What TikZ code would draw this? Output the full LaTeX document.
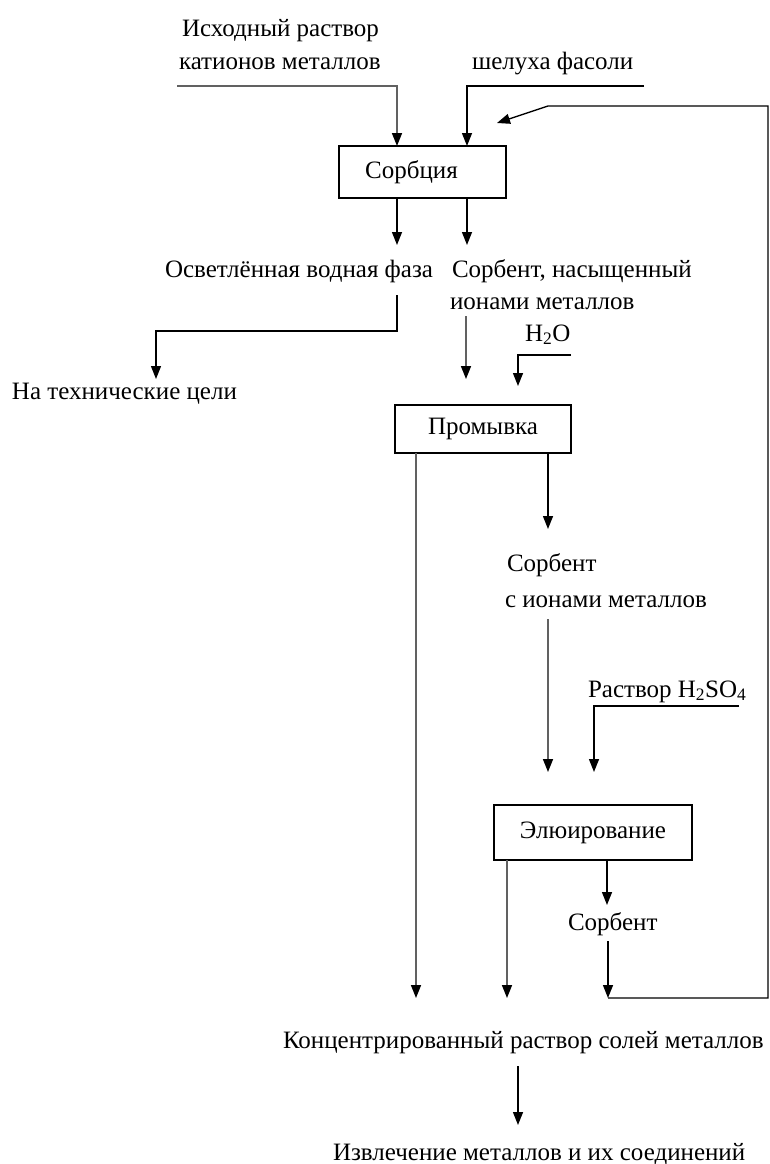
\documentclass[tikz,border=0pt]{standalone}
\usepackage{fontspec}
\setmainfont{Liberation Serif}
\usetikzlibrary{arrows.meta}
\begin{document}
\begin{tikzpicture}[x=1pt,y=-1pt,
  every node/.style={inner sep=0pt, outer sep=0pt, font=\fontsize{25}{32}\selectfont},
  lbl/.style={anchor=base west},
  procbox/.style={draw, line width=1.4pt, inner sep=0pt},
  conn/.style={line width=1.4pt},
  arr/.style={conn, -{Triangle[width=10pt,length=13pt]}},
  garr/.style={line width=1.6pt, draw=black!62, -{Triangle[width=10pt,length=13pt,color=black]}}]
\useasboundingbox (0,0) rectangle (770,1164);

% text labels
\node[lbl] (src1) at (182,37) {Исходный раствор};
\node[lbl] (src2) at (179,70) {катионов металлов};
\node[lbl] (husk) at (472,70) {шелуха фасоли};
\node[lbl] (osv) at (165,277) {Осветлённая водная фаза};
\node[lbl] (sat1) at (452,277) {Сорбент, насыщенный};
\node[lbl] (sat2) at (450,309) {ионами металлов};
\node[lbl] (tech) at (12,399) {На технические цели};
\node[lbl] (water) at (525,341) {H\textsubscript{2}O};
\node[lbl] (sb2a) at (507,571) {Сорбент};
\node[lbl] (sb2b) at (505,607) {с ионами металлов};
\node[lbl] (acid) at (588,697) {Раствор H\textsubscript{2}SO\textsubscript{4}};
\node[lbl] (sb3) at (568,930) {Сорбент};
\node[lbl] (conc) at (283,1048) {Концентрированный раствор солей металлов};
\node[lbl] (extr) at (333,1160) {Извлечение металлов и их соединений};

% process boxes
\node[procbox, minimum width=167pt, minimum height=52pt] (sorb) at (422.5,172) {\hspace*{-22pt}Сорбция};
\node[procbox, minimum width=176pt, minimum height=48pt] (prom) at (483,429) {Промывка};
\node[procbox, minimum width=198pt, minimum height=55pt] (elu) at (593,832.5) {Элюирование};

% coordinates
\coordinate (f1) at (177,86);
\coordinate (f2) at (644,86);
\coordinate (t1) at (397,245);
\coordinate (t2) at (467,245);
\coordinate (o1) at (397,295);
\coordinate (o2) at (156,331);
\coordinate (o3) at (156,379);
\coordinate (s1) at (466,316);
\coordinate (s2) at (466,379);
\coordinate (w1) at (571,355);
\coordinate (w2) at (518,386);
\coordinate (p1) at (548,529);
\coordinate (c1) at (416,998);
\coordinate (q1) at (548,619);
\coordinate (q2) at (548,772);
\coordinate (h1) at (739,706);
\coordinate (h2) at (594,772);
\coordinate (c2) at (507,998);
\coordinate (e1) at (607,905);
\coordinate (r0) at (608,941);
\coordinate (r1) at (608,998);
\coordinate (r2) at (768,998);
\coordinate (r3) at (768,106);
\coordinate (r4) at (548,106);
\coordinate (r5) at (497,123);
\coordinate (k1) at (518,1066);
\coordinate (k2) at (518,1125);

% connectors
\draw[garr] (f1) -| ([xshift=-25.5pt]sorb.north);
\draw[arr] (f2) -| ([xshift=44.5pt]sorb.north);
\draw[arr] ([xshift=-25.5pt]sorb.south) -- (t1);
\draw[arr] ([xshift=44.5pt]sorb.south) -- (t2);
\draw[arr] (o1) |- (o2) -- (o3);
\draw[garr] (s1) -- (s2);
\draw[arr] (w1) -| (w2);
\draw[garr] (prom.south -| c1) -- (c1);
\draw[arr] (prom.south -| p1) -- (p1);
\draw[garr] (q1) -- (q2);
\draw[arr] (h1) -| (h2);
\draw[garr] (elu.south -| c2) -- (c2);
\draw[arr] (elu.south -| e1) -- (e1);
\draw[arr] (r0) -- (r1);
\draw[arr] (r1) -- (r2) -- (r3) -- (r4) -- (r5);
\draw[arr] (k1) -- (k2);
\end{tikzpicture}
\end{document}
